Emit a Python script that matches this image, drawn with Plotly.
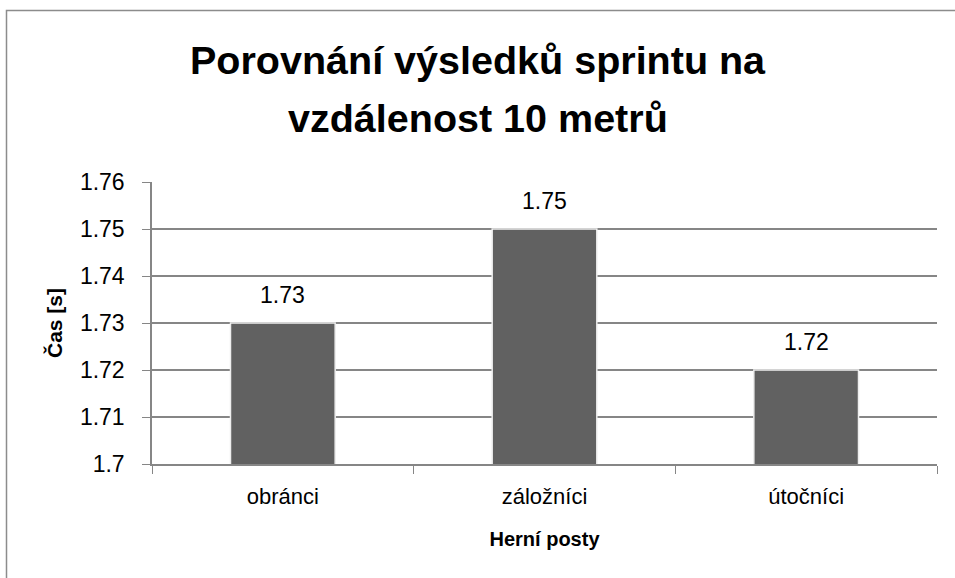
import plotly.graph_objects as go

categories = ["obránci", "záložníci", "útočníci"]
values = [1.73, 1.75, 1.72]
value_labels = ["1.73", "1.75", "1.72"]
y_ticks = [1.70, 1.71, 1.72, 1.73, 1.74, 1.75, 1.76]
y_tick_labels = ["1.7", "1.71", "1.72", "1.73", "1.74", "1.75", "1.76"]
title_lines = ["Porovnání výsledků sprintu na", "vzdálenost 10 metrů"]

FONT = "Liberation Sans, Arial, sans-serif"

W, H = 955, 578
L, R, T, B = 152, 18, 182, 114
pw, ph = W - L - R, H - T - B


def py(px):
    """page pixel y -> paper y"""
    return (H - B - px) / ph


def pxx(px):
    return (px - L) / pw


fig = go.Figure()
fig.add_trace(go.Bar(
    x=categories, y=values,
    marker=dict(color="#616161", line=dict(color="#eeeeee", width=1.5)),
    width=0.4,
))

annotations = []
for c, v, t in zip(categories, values, value_labels):
    annotations.append(dict(
        x=c, y=v, xref="x", yref="y", text=t, showarrow=False,
        yanchor="bottom", xanchor="center", yshift=13,
        font=dict(size=23, family=FONT, color="#000000"),
    ))
for i, line in enumerate(title_lines):
    annotations.append(dict(
        x=pxx(W / 2), y=py([60, 118][i]), xref="paper", yref="paper",
        text="<b>" + line + "</b>", showarrow=False,
        xanchor="center", yanchor="middle",
        font=dict(size=39.5, family=FONT, color="#000000"),
    ))

fig.update_layout(
    width=W, height=H,
    margin=dict(l=L, r=R, t=T, b=B),
    paper_bgcolor="white", plot_bgcolor="white",
    showlegend=False,
    bargap=0.6,
    annotations=annotations,
    xaxis=dict(
        type="category",
        showgrid=False,
        showline=True, linecolor="#868686", linewidth=1.5,
        ticks="outside", tickson="boundaries", ticklen=8, tickcolor="#868686",
        ticklabelstandoff=12,
        tickfont=dict(size=22, family=FONT, color="#000000"),
        title=dict(text="<b>Herní posty</b>", font=dict(size=20, family=FONT, color="#000000"), standoff=24),
    ),
    yaxis=dict(
        range=[1.70, 1.76],
        tickvals=y_ticks, ticktext=y_tick_labels,
        showgrid=True, gridcolor="#868686", gridwidth=1.5,
        showline=True, linecolor="#868686", linewidth=1.5,
        ticks="outside", ticklen=8, tickcolor="#868686",
        ticklabelstandoff=13,
        tickfont=dict(size=23, family=FONT, color="#000000"),
        title=dict(text="<b>Čas [s]</b>", font=dict(size=21, family=FONT, color="#000000"), standoff=12),
        zeroline=False,
    ),
    shapes=[dict(
        type="rect", xref="paper", yref="paper",
        x0=pxx(6.5), x1=pxx(965),
        y0=py(600), y1=py(10.5),
        line=dict(color="#8c8c8c", width=1.5), fillcolor="rgba(0,0,0,0)", layer="below",
    )],
)

fig.write_html("out.html", config={"displayModeBar": False},
               post_script="document.body.style.margin='0';")
